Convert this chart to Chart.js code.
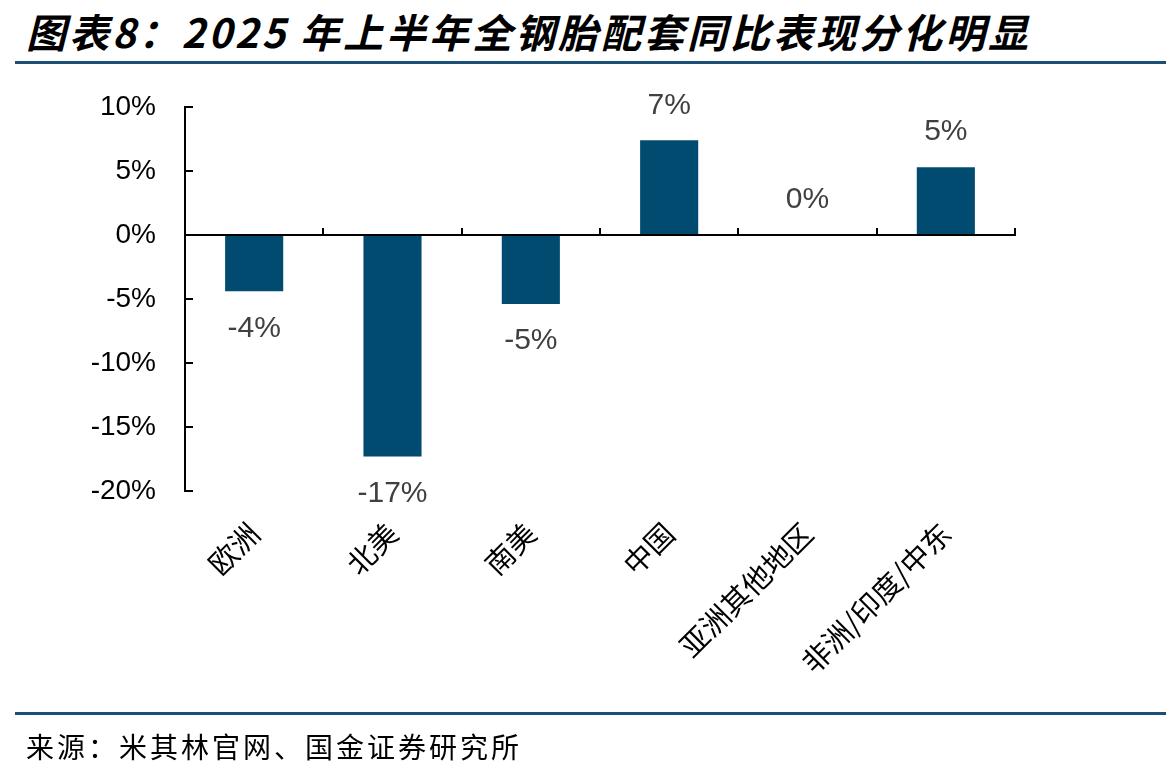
<!DOCTYPE html>
<html>
<head>
<meta charset="utf-8">
<script src="https://cdn.jsdelivr.net/npm/chart.js@4.4.1/dist/chart.umd.min.js"></script>
<style>
  html, body { margin: 0; padding: 0; background: #ffffff; }
  #wrap { position: relative; width: 1166px; height: 775px; overflow: hidden; background: #fff; }
  #title { position: absolute; left: 26px; top: 5px; font-family: "Noto Sans CJK SC"; font-style: italic; font-weight: 700; font-size: 40px; letter-spacing: 3px; white-space: nowrap; color: #000; line-height: 52px; }
  .rule { position: absolute; left: 15px; width: 1151px; height: 3px; background: #1B4F75; }
  #src { position: absolute; left: 26px; top: 727px; font-family: "Noto Sans CJK SC"; font-size: 28px; letter-spacing: 3px; white-space: nowrap; color: #000; line-height: 38px; }
  #c { position: absolute; left: 0; top: 0; }
</style>
</head>
<body>
<div id="wrap">
  <div id="title">图表8：2025 年上半年全钢胎配套同比表现分化明显</div>
  <div class="rule" style="top:61px"></div>
  <canvas id="c" width="1166" height="775"></canvas>
  <div class="rule" style="top:712px"></div>
  <div id="src">来源：米其林官网、国金证券研究所</div>
</div>
<script>
const categories = ['欧洲', '北美', '南美', '中国', '亚洲其他地区', '非洲/印度/中东'];
const yoyValues = [-4.4, -17.3, -5.4, 7.4, 0, 5.3];
const yMin = -20;
const yMax = 10;
const yStep = 5;

const barLabels = {
  id: 'barLabels',
  afterDatasetsDraw(chart) {
    const meta = chart.getDatasetMeta(0);
    const ctx = chart.ctx;
    ctx.save();
    ctx.font = '30px "Liberation Sans", Arial, sans-serif';
    ctx.fillStyle = '#404040';
    ctx.textAlign = 'center';
    ctx.textBaseline = 'middle';
    meta.data.forEach((bar, i) => {
      const v = yoyValues[i];
      const y = v >= 0 ? bar.y - 35 : bar.y + 37;
      ctx.fillText(Math.round(v) + '%', bar.x, y);
    });
    ctx.restore();
  }
};

new Chart(document.getElementById('c'), {
  type: 'bar',
  data: {
    labels: categories,
    datasets: [{
      data: yoyValues,
      backgroundColor: '#024B70',
      borderWidth: 0,
      barPercentage: 0.42,
      categoryPercentage: 1.0
    }]
  },
  options: {
    responsive: false,
    animation: false,
    devicePixelRatio: 1,
    layout: { padding: { top: 107, left: 0, right: 151, bottom: 74 } },
    plugins: { legend: { display: false }, tooltip: { enabled: false } },
    scales: {
      x: {
        type: 'category',
        position: { y: 0 },
        grid: { display: true, offset: true, drawOnChartArea: false, drawTicks: true, tickLength: -8, lineWidth: 2, color: '#000' },
        border: { display: true, color: '#000', width: 2 },
        ticks: { display: false }
      },
      x2: {
        type: 'category',
        labels: categories,
        position: 'bottom',
        grid: { display: false, drawTicks: false },
        border: { display: false },
        ticks: {
          autoSkip: false, minRotation: 45, maxRotation: 45, padding: 25,
          color: '#000',
          font: { family: '"Noto Sans CJK SC"', size: 29 }
        },
        afterFit(s) { s.height = 210; }
      },
      y: {
        min: yMin, max: yMax,
        ticks: {
          stepSize: yStep,
          callback: v => v + '%',
          color: '#000',
          padding: 37,
          font: { family: '"Liberation Sans", Arial, sans-serif', size: 28 }
        },
        grid: { drawOnChartArea: false, drawTicks: true, tickLength: -8, lineWidth: 2, color: '#000' },
        border: { display: true, color: '#000', width: 2 },
        afterFit(s) { s.width = 185; }
      }
    }
  },
  plugins: [barLabels]
});
</script>
</body>
</html>
